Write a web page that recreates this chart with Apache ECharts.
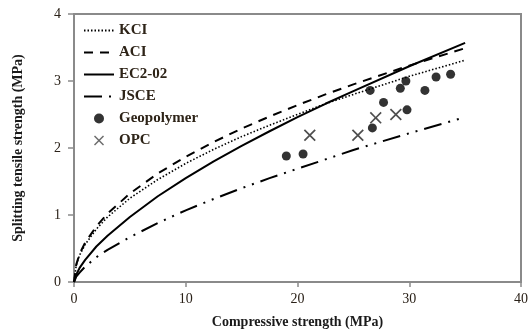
<!DOCTYPE html>
<html>
<head>
<meta charset="utf-8">
<script src="https://cdn.jsdelivr.net/npm/echarts@6/dist/echarts.min.js"></script>
<style>
  html, body { margin: 0; padding: 0; background: #fff; }
  #main { width: 531px; height: 336px; }
</style>
</head>
<body>
<div id="main"></div>
<script>
// compressive strength samples for the model curves (MPa)
const fcValues = [0, 0.2, 0.5, 1, 2, 3, 5, 7.5, 10, 12.5, 15, 17.5, 20, 22.5, 25, 30, 35]
// splitting tensile strength (MPa)
const kciValues = [0, 0.25, 0.40, 0.56, 0.79, 0.97, 1.25, 1.53, 1.77, 1.98, 2.17, 2.34, 2.50, 2.66, 2.80, 3.07, 3.31]
const aciValues = [0, 0.26, 0.42, 0.59, 0.83, 1.02, 1.32, 1.62, 1.87, 2.09, 2.29, 2.47, 2.64, 2.80, 2.95, 3.23, 3.49]
const ec2Values = [0, 0.11, 0.21, 0.33, 0.53, 0.69, 0.97, 1.28, 1.55, 1.80, 2.03, 2.25, 2.46, 2.66, 2.85, 3.22, 3.57]
const jsceValues = [0, 0.08, 0.14, 0.23, 0.37, 0.48, 0.67, 0.88, 1.07, 1.24, 1.40, 1.55, 1.69, 1.83, 1.97, 2.22, 2.46]

// test results [compressive, splitting tensile]
const geopolymerPoints = [
    [19.0, 1.88], [20.5, 1.91], [26.5, 2.86], [26.7, 2.30], [27.7, 2.68], [29.2, 2.89],
    [29.7, 3.00], [29.8, 2.57], [31.4, 2.86], [32.4, 3.06], [33.7, 3.10]
]
const opcPoints = [[21.1, 2.19], [25.4, 2.19], [27.0, 2.45], [28.8, 2.50]]

const xTicks = [0, 10, 20, 30, 40]
const yTicks = [0, 1, 2, 3, 4]

const serif = '"Liberation Serif", "DejaVu Serif", serif'
const axisGray = '#8a8a8a'
const crossPath = 'path://M1,0L5,4L9,0L10,1L6,5L10,9L9,10L5,6L1,10L0,9L4,5L0,1Z'

function curve (ys) {
    return fcValues.map((x, i) => [x, ys[i]])
}

function lineSeries (name, ys, lineType, width) {
    return {
        name: name,
        type: 'line',
        data: curve(ys),
        symbol: 'none',
        smooth: false,
        lineStyle: { color: '#000', width: width, type: lineType },
        itemStyle: { color: '#000' },
        z: 2
    }
}

const myChart = echarts.init(document.getElementById('main'))

const option = {
    backgroundColor: '#fff',
    animation: false,
    grid: {
        left: 74,
        right: 7,
        top: 14,
        bottom: 54,
        show: true,
        borderColor: axisGray,
        borderWidth: 2
    },
    legend: {
        orient: 'vertical',
        left: 78,
        top: 18,
        itemWidth: 30,
        itemHeight: 10,
        itemGap: 7,
        textStyle: { fontFamily: serif, fontSize: 15, fontWeight: 'bold', color: '#2e2418' },
        data: [
            { name: 'KCI', itemStyle: { opacity: 0 } },
            { name: 'ACI', itemStyle: { opacity: 0 } },
            { name: 'EC2-02', itemStyle: { opacity: 0 } },
            { name: 'JSCE', itemStyle: { opacity: 0 } },
            { name: 'Geopolymer', icon: 'circle', itemStyle: { color: '#000' } },
            { name: 'OPC', icon: crossPath, itemStyle: { color: '#444' } }
        ]
    },
    xAxis: {
        type: 'value',
        min: xTicks[0],
        max: xTicks[xTicks.length - 1],
        interval: 10,
        name: 'Compressive strength (MPa)',
        nameLocation: 'middle',
        nameGap: 33,
        nameTextStyle: { fontFamily: serif, fontSize: 14, fontWeight: 'bold', color: '#1a1a1a' },
        axisLine: { lineStyle: { color: axisGray, width: 2 } },
        axisTick: { inside: false, length: 5, lineStyle: { color: axisGray, width: 1.5 } },
        axisLabel: { fontFamily: serif, fontSize: 14, color: '#2a2118', margin: 10 },
        splitLine: { show: false }
    },
    yAxis: {
        type: 'value',
        min: yTicks[0],
        max: yTicks[yTicks.length - 1],
        interval: 1,
        name: 'Splitting tensile strength (MPa)',
        nameLocation: 'middle',
        nameGap: 49,
        nameTextStyle: { fontFamily: serif, fontSize: 14, fontWeight: 'bold', color: '#1a1a1a' },
        axisLine: { show: true, lineStyle: { color: axisGray, width: 2 } },
        axisTick: { show: true, inside: false, length: 6, lineStyle: { color: axisGray, width: 1.5 } },
        axisLabel: { fontFamily: serif, fontSize: 14, color: '#2a2118', margin: 13 },
        splitLine: { show: false }
    },
    series: [
        lineSeries('KCI', kciValues, [1.5, 2], 1.6),
        lineSeries('ACI', aciValues, [9, 7], 2),
        lineSeries('EC2-02', ec2Values, 'solid', 2),
        lineSeries('JSCE', jsceValues, [18, 7, 2, 7, 2, 7], 2),
        {
            name: 'Geopolymer',
            type: 'scatter',
            data: geopolymerPoints,
            symbol: 'circle',
            symbolSize: 9,
            itemStyle: { color: '#000' },
            z: 3
        },
        {
            name: 'OPC',
            type: 'scatter',
            data: opcPoints,
            symbol: crossPath,
            symbolSize: 12,
            itemStyle: { color: '#222' },
            z: 3
        }
    ]
}

myChart.setOption(option)
</script>
</body>
</html>
